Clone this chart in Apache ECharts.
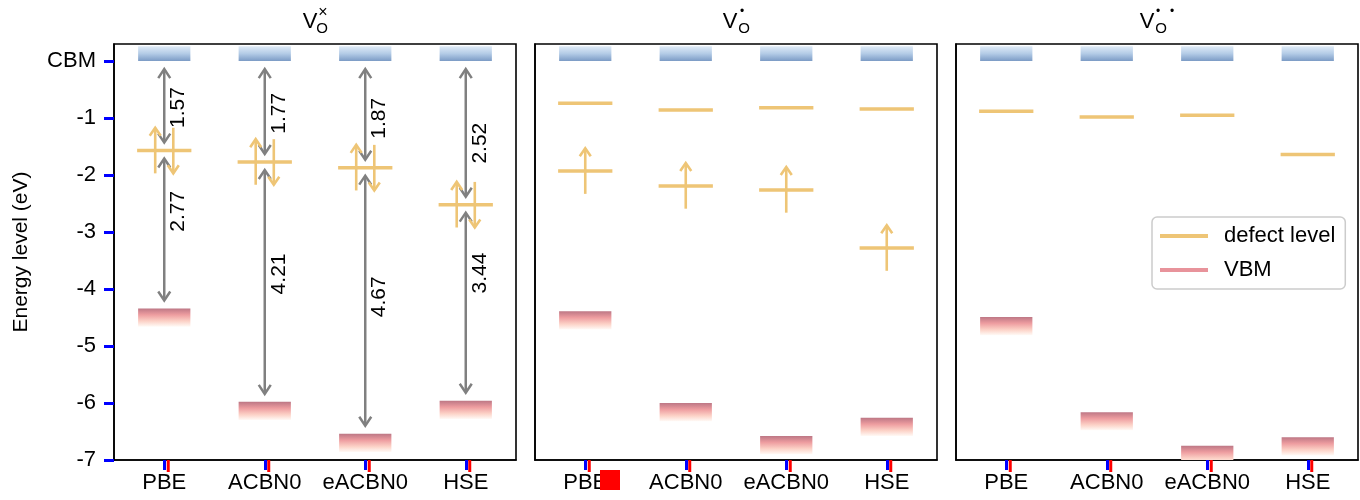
<!DOCTYPE html>
<html>
<head>
<meta charset="utf-8">
<script src="https://cdn.jsdelivr.net/npm/echarts@6/dist/echarts.min.js"></script>
<style>
  html, body { margin: 0; padding: 0; background: #fff; }
  #chart { width: 1360px; height: 500px; }
  #err { position: absolute; left: 600px; top: 300px; font: 14px sans-serif; color: red; }
</style>
</head>
<body>
<div id="chart"></div>
<div id="err"></div>
<script>
// ---- data (eV, referenced to the CBM) ----
const methods = ['PBE', 'ACBN0', 'eACBN0', 'HSE'];
const yTicks = [-7, -6, -5, -4, -3, -2, -1, 0];
const cbm = [0, 0, 0, 0];
const gapCbmToLevel = [1.57, 1.77, 1.87, 2.52];
const gapLevelToVbm = [2.77, 4.21, 4.67, 3.44];
const levelSingleEmpty = [-0.74, -0.86, -0.82, -0.84];
const levelSingleOccupied = [-1.93, -2.19, -2.26, -3.28];
const vbmSingle = [-4.39, -6.00, -6.58, -6.26];
const levelDoubleEmpty = [-0.88, -0.98, -0.95, -1.64];
const vbmDouble = [-4.49, -6.16, -6.75, -6.60];
const levelNeutral = gapCbmToLevel.map((g, i) => cbm[i] - g);
const vbmNeutral = levelNeutral.map((l, i) => l - gapLevelToVbm[i]);

const FONT = '"Liberation Sans", Arial, Helvetica, sans-serif';
const GOLD = '#EEC576';
const GREY = '#808080';
const VBM_LEGEND = '#E8939B';
const BAR_HALF = 0.26, CBM_THICK = 0.26, VBM_THICK = 0.32, LEVEL_HALF = 0.27;
const SPIN_DX = 0.09, SPIN_HALF = 0.4, GAP_PAD = 0.14;
const UPPER_LABEL_SHIFT = [-0.03, -0.03, -0.07, -0.18];
const LOWER_LABEL_SHIFT = [0.32, 0.14, 0.07, 0.52];
const X_MIN = -0.5, X_MAX = 3.5, Y_MIN = -7, Y_MAX = 0.3;
const GRID_W = 402, GRID_TOP = 44, GRID_H = 416;
const gridLefts = [114, 535, 956];
const AXIS_W = 1.6, TICK_LEN = 7;

const cbmFill = { type: 'linear', x: 0, y: 0, x2: 0, y2: 1, colorStops: [
  { offset: 0, color: '#dfebf7' }, { offset: 0.5, color: '#b3cbe6' }, { offset: 1, color: '#7b9bc5' } ] };
const vbmFill = { type: 'linear', x: 0, y: 0, x2: 0, y2: 1, colorStops: [
  { offset: 0, color: '#bd7785' }, { offset: 0.35, color: '#ee9da0' }, { offset: 0.7, color: '#fcd2c7' }, { offset: 1, color: '#fffaf6' } ] };

function chevron(tip, dir, len, half, color, lw) {
  return { type: 'polyline',
    shape: { points: [[tip[0] - half, tip[1] - dir * len], [tip[0], tip[1]], [tip[0] + half, tip[1] - dir * len]] },
    style: { stroke: color, lineWidth: lw, fill: null } };
}
function blockItem(thickUp, thickDown, fill) {
  return function (params, api) {
    const x = api.value(0), y = api.value(1);
    const a = api.coord([x - BAR_HALF, y + thickUp]);
    const b = api.coord([x + BAR_HALF, y - thickDown]);
    return { type: 'rect', shape: { x: a[0], y: a[1], width: b[0] - a[0], height: b[1] - a[1] }, style: { fill: fill } };
  };
}
function levelItem(params, api) {
  const x = api.value(0), y = api.value(1);
  const a = api.coord([x - LEVEL_HALF, y]), b = api.coord([x + LEVEL_HALF, y]);
  return { type: 'line', shape: { x1: a[0], y1: a[1], x2: b[0], y2: b[1] }, style: { stroke: GOLD, lineWidth: 3.5 } };
}
function spinItem(dx, up) {
  return function (params, api) {
    const x = api.value(0) + dx, y = api.value(1);
    const top = api.coord([x, y + SPIN_HALF]), bot = api.coord([x, y - SPIN_HALF]);
    return { type: 'group', children: [
      { type: 'line', shape: { x1: top[0], y1: top[1], x2: bot[0], y2: bot[1] }, style: { stroke: GOLD, lineWidth: 2.6 } },
      chevron(up ? top : bot, up ? -1 : 1, 8, 5.5, GOLD, 2.6) ] };
  };
}
function gapItem(shifts) {
  return function (params, api) {
    const x = api.value(0), hi = api.value(1), lo = api.value(2), gap = api.value(3);
    const top = api.coord([x, hi - GAP_PAD]), bot = api.coord([x, lo + GAP_PAD]);
    const mid = api.coord([x, (hi + lo) / 2 + shifts[params.dataIndex]]);
    return { type: 'group', children: [
      { type: 'line', shape: { x1: top[0], y1: top[1] + 1, x2: bot[0], y2: bot[1] - 1 }, style: { stroke: GREY, lineWidth: 2.5 } },
      chevron(top, -1, 9, 6, GREY, 2.5), chevron(bot, 1, 9, 6, GREY, 2.5),
      { type: 'text', x: mid[0] + 14, y: mid[1], rotation: Math.PI / 2,
        style: { text: gap.toFixed(2), fontSize: 21, fontFamily: FONT, fill: '#000', align: 'center', verticalAlign: 'middle' } } ] };
  };
}

const panels = [
  { vbm: vbmNeutral, empty: [], paired: levelNeutral, single: [] },
  { vbm: vbmSingle, empty: levelSingleEmpty, paired: [], single: levelSingleOccupied },
  { vbm: vbmDouble, empty: levelDoubleEmpty, paired: [], single: [] }
];

const grid = [], xAxis = [], yAxis = [], series = [];
panels.forEach((p, k) => {
  grid.push({ left: gridLefts[k], top: GRID_TOP, width: GRID_W, height: GRID_H, show: true, borderColor: '#000', borderWidth: AXIS_W });
  xAxis.push({
    type: 'value', gridIndex: k, min: X_MIN, max: X_MAX,
    axisLine: { onZero: false, lineStyle: { color: '#000', width: AXIS_W } },
    splitLine: { show: false },
    axisTick: { show: true, customValues: [0, 1, 2, 3], length: 10, lineStyle: { color: 'blue', width: 3 } },
    axisLabel: { customValues: [0, 1, 2, 3], formatter: v => methods[v] || '', fontSize: 22, fontFamily: FONT, color: '#000', margin: 12 }
  });
  const yBase = { type: 'value', gridIndex: k, min: Y_MIN, max: Y_MAX,
    axisLine: { onZero: false, lineStyle: { color: '#000', width: AXIS_W } }, splitLine: { show: false } };
  if (k === 0) {
    yAxis.push(Object.assign(yBase, {
      name: 'Energy level (eV)', nameLocation: 'middle', nameGap: 82,
      nameTextStyle: { fontSize: 21, fontFamily: FONT, color: '#000' },
      axisTick: { show: true, customValues: yTicks, length: 10, lineStyle: { color: 'blue', width: 3 } },
      axisLabel: { customValues: yTicks, formatter: v => (v === 0 ? 'CBM' : String(v)), fontSize: 22, fontFamily: FONT, color: '#000', margin: 18 }
    }));
  } else {
    yAxis.push(Object.assign(yBase, { axisTick: { show: false }, axisLabel: { show: false } }));
  }
  const common = { type: 'custom', xAxisIndex: k, yAxisIndex: k, silent: true };
  series.push(Object.assign({}, common, { name: 'CBM', data: cbm.map((v, i) => [i, v]), renderItem: blockItem(CBM_THICK, 0, cbmFill) }));
  series.push(Object.assign({}, common, { name: 'VBM', itemStyle: { color: VBM_LEGEND }, clip: true,
    data: p.vbm.map((v, i) => [i, v]), renderItem: blockItem(0, VBM_THICK, vbmFill) }));
  const levelData = [];
  [p.empty, p.paired, p.single].forEach(arr => arr.forEach((v, i) => levelData.push([i, v])));
  series.push(Object.assign({}, common, { name: 'defect level', itemStyle: { color: GOLD }, data: levelData, renderItem: levelItem, z: 3 }));
  if (k === 0) {
    series.push(Object.assign({}, common, { name: 'gap', data: cbm.map((c, i) => [i, c, levelNeutral[i], gapCbmToLevel[i]]), renderItem: gapItem(UPPER_LABEL_SHIFT), z: 2 }));
    series.push(Object.assign({}, common, { name: 'gap2', data: levelNeutral.map((l, i) => [i, l, vbmNeutral[i], gapLevelToVbm[i]]), renderItem: gapItem(LOWER_LABEL_SHIFT), z: 2 }));
  }
  if (p.paired.length) {
    series.push(Object.assign({}, common, { name: 'spin up', data: p.paired.map((v, i) => [i, v]), renderItem: spinItem(-SPIN_DX, true), z: 4 }));
    series.push(Object.assign({}, common, { name: 'spin down', data: p.paired.map((v, i) => [i, v]), renderItem: spinItem(SPIN_DX, false), z: 4 }));
  }
  if (p.single.length) {
    series.push(Object.assign({}, common, { name: 'spin up', data: p.single.map((v, i) => [i, v]), renderItem: spinItem(0, true), z: 4 }));
  }
});

function titleText(x, y, text, size) {
  return { type: 'text', x: x, y: y, style: { text: text, fontSize: size, fontFamily: FONT, fill: '#000', align: 'center', verticalAlign: 'middle' } };
}
const cx = gridLefts.map(l => l + GRID_W / 2);
const titles = [
  titleText(cx[0] - 5, 22, 'V', 22), titleText(cx[0] + 7, 29, 'O', 15), titleText(cx[0] + 8, 13, '×', 16),
  titleText(cx[1] - 6, 22, 'V', 22), titleText(cx[1] + 8, 29, 'O', 15), titleText(cx[1] + 6, 12, '•', 12),
  titleText(cx[2] - 10, 22, 'V', 22), titleText(cx[2] + 4, 29, 'O', 15), titleText(cx[2] + 1, 12, '•', 12), titleText(cx[2] + 15, 12, '•', 12)
];

try {
  const chart = echarts.init(document.getElementById('chart'), null, { renderer: 'canvas' });
  chart.setOption({
    animation: false,
    grid: grid, xAxis: xAxis, yAxis: yAxis, series: series, graphic: titles,
    legend: {
      data: [ { name: 'defect level', itemStyle: { color: GOLD } }, { name: 'VBM', itemStyle: { color: VBM_LEGEND } } ],
      orient: 'vertical', left: 1152, top: 217, icon: 'rect', itemWidth: 48, itemHeight: 4, itemGap: 12,
      padding: [8, 10, 8, 8], borderColor: '#cccccc', borderWidth: 1.5, borderRadius: 5, backgroundColor: '#fff',
      selectedMode: false,
      textStyle: { fontSize: 22, fontFamily: FONT, color: '#000', padding: [0, 0, 0, 11] }
    }
  });
  const extra = [];
  panels.forEach((p, k) => {
    methods.forEach((m, i) => {
      const pt = chart.convertToPixel({ gridIndex: k }, [i, Y_MIN]);
      extra.push({ type: 'line', z: 100, shape: { x1: pt[0] + 4, y1: pt[1], x2: pt[0] + 4, y2: pt[1] + 12 }, style: { stroke: 'red', lineWidth: 3 } });
    });
  });
  extra.push({ type: 'rect', z: 100, shape: { x: 600, y: 470, width: 20, height: 20 }, style: { fill: 'red' } });
  chart.setOption({ graphic: titles.concat(extra) });
} catch (e) {
  document.getElementById('err').textContent = String(e && e.stack || e);
}
</script>
</body>
</html>
